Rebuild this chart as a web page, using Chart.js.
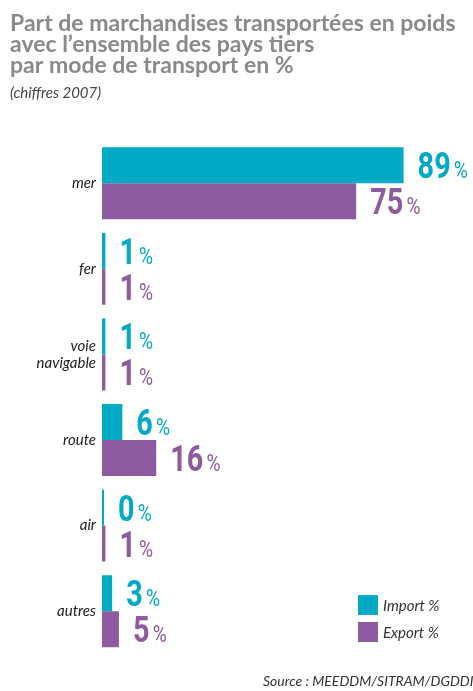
<!DOCTYPE html>
<html>
<head>
<meta charset="utf-8">
<script src="https://cdn.jsdelivr.net/npm/chart.js@4"></script>
<style>
html,body{margin:0;padding:0;background:#fff;}
</style>
</head>
<body>
<canvas id="myChart" width="473" height="691"></canvas>
<script>
var modes=["mer","fer",["voie","navigable"],"route","air","autres"];
var importPct=[89,1,1,6,0,3];
var exportPct=[75,1,1,16,1,5];
var seriesNames=["Import %","Export %"];
var titleLines=["Part de marchandises transportées en poids","avec l\u2019ensemble des pays tiers","par mode de transport en %"];
var subtitleText="(chiffres 2007)";
var sourceText="Source : MEEDDM/SITRAM/DGDDI";

var importColor="#00aac4";
var exportColor="#8f5ba0";

// big number + small % after each bar
var valueLabels={
	id:"valueLabels",
	afterDatasetsDraw:function(chart){
		var ctx=chart.ctx;
		chart.data.datasets.forEach(function(ds,i){
			var meta=chart.getDatasetMeta(i);
			meta.data.forEach(function(bar,j){
				var num=String(ds.data[j]);
				ctx.save();
				ctx.translate(bar.x+14,bar.y+13);
				ctx.scale(0.8,1);
				ctx.fillStyle=ds.backgroundColor;
				ctx.textBaseline="alphabetic";
				ctx.textAlign="left";
				ctx.font="bold 36px Roboto";
				ctx.fillText(num,0,0);
				var w=ctx.measureText(num).width;
				ctx.font="24px Roboto";
				ctx.fillText("%",w+4,0);
				ctx.restore();
			});
		});
	}
};

// legend boxes sit inside the plot, bottom right
var cornerLegend={
	id:"cornerLegend",
	afterDraw:function(chart){
		var ctx=chart.ctx;
		var area=chart.chartArea;
		var x0=area.right-110;
		var y0=area.bottom-59;
		ctx.save();
		ctx.font="italic 15px Lato";
		ctx.textBaseline="middle";
		chart.data.datasets.forEach(function(ds,i){
			var y=y0+i*27;
			ctx.fillStyle=ds.backgroundColor;
			ctx.fillRect(x0,y,20,20);
			ctx.fillStyle="#333";
			ctx.fillText(ds.label,x0+25,y+11);
		});
		ctx.font="italic 14px Lato";
		ctx.textBaseline="alphabetic";
		ctx.fillText(sourceText,263,686);
		ctx.restore();
	}
};

var myChart=document.getElementById("myChart").getContext("2d");

var chart=new Chart(myChart,{
	type:"bar",
	data:{
		labels:modes,
		datasets:[
		{
			label:seriesNames[0],
			data:importPct,
			backgroundColor:importColor,
		},
		{
			label:seriesNames[1],
			data:exportPct,
			backgroundColor:exportColor,
		}
		]
	},
	options:{
		responsive:false,
		animation:false,
		indexAxis:"y",
		categoryPercentage:0.84,
		barPercentage:1.0,
		minBarLength:2,
		layout:{padding:{left:10,right:5,top:0,bottom:37}},
		scales:{
			x:{
				display:false,
				min:0,
				max:108
			},
			y:{
				grid:{display:false,drawTicks:false},
				border:{display:false},
				ticks:{
					color:"#222",
					padding:6,
					font:{family:"Lato",size:15,style:"italic",lineHeight:1.15}
				},
				afterFit:function(scale){scale.width=92;}
			}
		},
		plugins:{
			title:{
				display:true,
				align:"start",
				text:titleLines,
				color:"#8a8a8a",
				font:{family:"Lato",size:23,weight:"bold",lineHeight:0.92},
				padding:{top:13,bottom:3}
			},
			subtitle:{
				display:true,
				align:"start",
				text:subtitleText,
				color:"#444",
				font:{family:"Lato",size:15,style:"italic",lineHeight:1.2},
				padding:{top:5,bottom:38}
			},
			legend:{display:false},
			tooltip:{enabled:false}
		}
	},
	plugins:[valueLabels,cornerLegend]
});
</script>
</body>
</html>
